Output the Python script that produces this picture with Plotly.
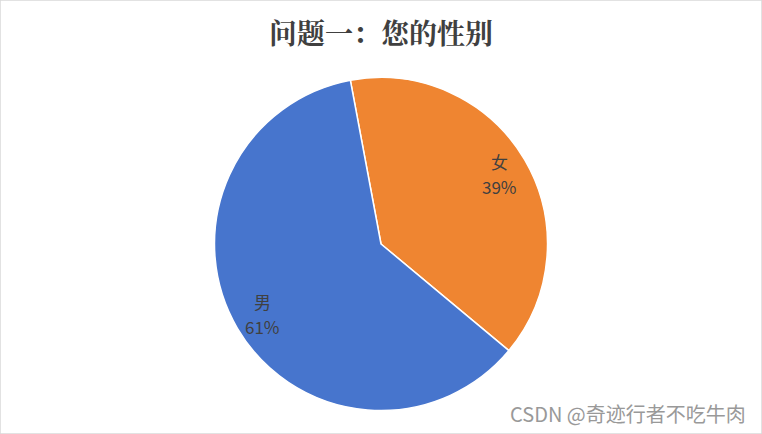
import math
import plotly.graph_objects as go

labels = ["女", "男"]
values = [39, 61]
colors = ["#EF8531", "#4775CD"]
title_text = "问题一：您的性别"
watermark = "CSDN @奇迹行者不吃牛肉"

W, H = 762, 434
cx, cy, r = 381, 244, 166.5
rotation = -10.6
label_r = 0.825

fig = go.Figure(go.Pie(
    labels=labels, values=values, sort=False, direction="clockwise",
    rotation=rotation,
    marker=dict(colors=colors, line=dict(color="white", width=1.5)),
    textinfo="none",
    domain=dict(x=[(cx - r) / W, (cx + r) / W], y=[1 - (cy + r) / H, 1 - (cy - r) / H]),
    showlegend=False, hoverinfo="label+percent",
))

annotations = []
total = sum(values)
start = rotation
lab_font = dict(family="Noto Sans CJK SC, Liberation Sans", size=17, color="#404040")
for lab, v in zip(labels, values):
    span = 360.0 * v / total
    mid = math.radians(start + span / 2)
    px = cx + label_r * r * math.sin(mid)
    py = cy - label_r * r * math.cos(mid)
    start += span
    pct = f"{round(100 * v / total)}%"
    annotations.append(dict(text=lab, x=px / W, y=1 - py / H, xref="paper", yref="paper",
                            showarrow=False, xanchor="center", yanchor="middle",
                            yshift=12.5, font=lab_font))
    annotations.append(dict(text=pct, x=px / W, y=1 - py / H, xref="paper", yref="paper",
                            showarrow=False, xanchor="center", yanchor="middle",
                            yshift=-12.5, font=lab_font))

annotations += [
    dict(text="<b>" + title_text + "</b>", x=381 / W, y=1 - 32 / H, xref="paper", yref="paper",
         showarrow=False, xanchor="center", yanchor="middle",
         font=dict(family="Noto Serif CJK SC, Noto Sans CJK SC", size=28, color="#404040")),
    dict(text=watermark, x=748 / W, y=1 - 413 / H, xref="paper", yref="paper",
         showarrow=False, xanchor="right", yanchor="middle",
         font=dict(family="Noto Sans CJK SC", size=20, color="#999999")),
]

fig.update_layout(
    width=W, height=H, margin=dict(l=0, r=0, t=0, b=0),
    paper_bgcolor="white", plot_bgcolor="white",
    annotations=annotations,
    shapes=[dict(type="rect", xref="paper", yref="paper", x0=0, y0=0, x1=1, y1=1,
                 line=dict(color="#D9D9D9", width=1.5))],
)

fig.write_html("out.html", config={"displayModeBar": False},
               post_script="document.body.style.margin='0';document.body.style.padding='0';")
